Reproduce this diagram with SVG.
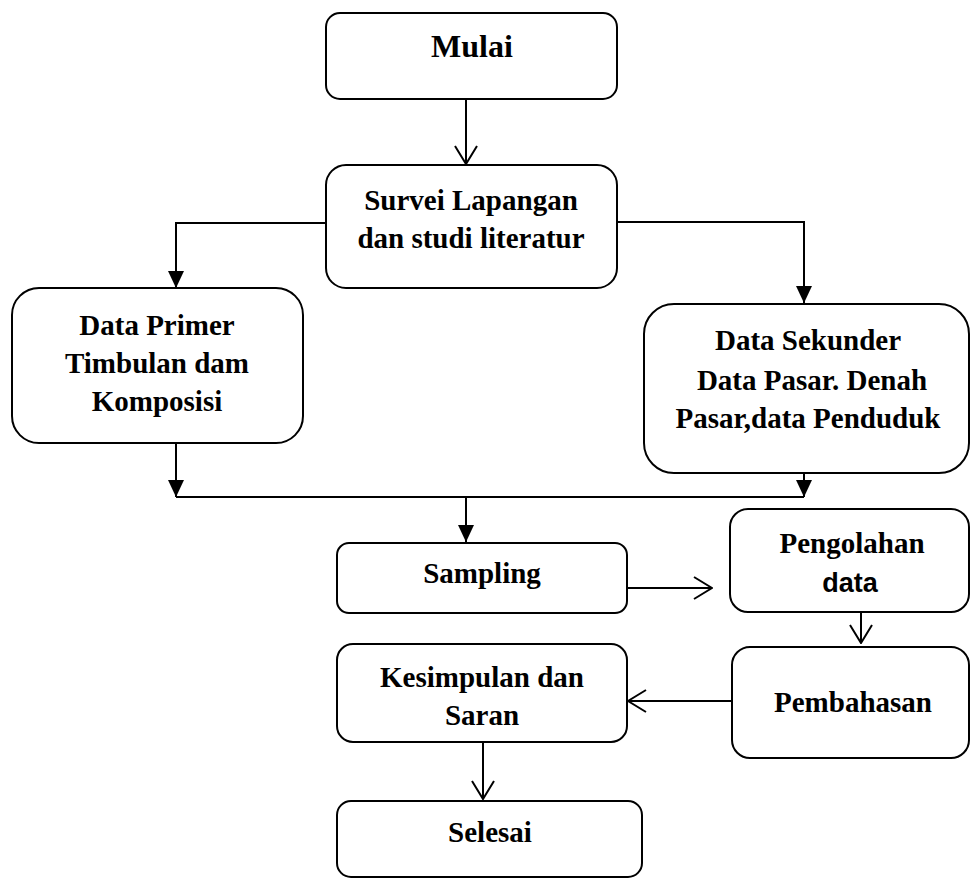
<svg xmlns="http://www.w3.org/2000/svg" width="971" height="879" viewBox="0 0 971 879">
<style>
.box{fill:#fff;stroke:#000;stroke-width:2}
.t{font-family:"Liberation Serif","Times New Roman",serif;font-weight:bold;font-size:29px;fill:#000;text-anchor:middle}
.big{font-size:32px}
.s{font-family:"Liberation Sans",Arial,sans-serif;font-weight:bold;font-size:27px;fill:#000;text-anchor:middle}
.c{fill:none;stroke:#000;stroke-width:2}
</style>
<defs>
<marker id="open" markerUnits="userSpaceOnUse" viewBox="0 0 20 24" refX="19" refY="12" markerWidth="20" markerHeight="24" orient="auto">
<path d="M1,1 L19,12 L1,23" fill="none" stroke="#000" stroke-width="2"/>
</marker>
<marker id="fill" markerUnits="userSpaceOnUse" viewBox="0 0 17 16" refX="17" refY="8" markerWidth="17" markerHeight="16" orient="auto">
<path d="M0,0 L17,8 L0,16 Z" fill="#000"/>
</marker>
</defs>
<rect width="971" height="879" fill="#fff"/>
<g id="connectors">
<path class="c" d="M466,99 L466,164" marker-end="url(#open)"/>
<path class="c" d="M326,223 L176,223 L176,288" marker-end="url(#fill)"/>
<path class="c" d="M617,222 L804,222 L804,303" marker-end="url(#fill)"/>
<path class="c" d="M176,443 L176,497" marker-end="url(#fill)"/>
<path class="c" d="M804,473 L804,497" marker-end="url(#fill)"/>
<path class="c" d="M176,497 L804,497"/>
<path class="c" d="M466,497 L466,542" marker-end="url(#fill)"/>
<path class="c" d="M627,588 L712,588" marker-end="url(#open)"/>
<path class="c" d="M861,612 L861,643" marker-end="url(#open)"/>
<path class="c" d="M732,701 L628,701" marker-end="url(#open)"/>
<path class="c" d="M483,742 L483,799" marker-end="url(#open)"/>
</g>
<g id="mulai">
<rect class="box" x="326" y="13" width="291" height="86" rx="14"/>
<text class="t big" x="472" y="57">Mulai</text>
</g>
<g id="survei">
<rect class="box" x="326" y="165" width="291" height="123" rx="20"/>
<text class="t" x="471" y="210">Survei Lapangan</text>
<text class="t" x="471" y="248">dan studi literatur</text>
</g>
<g id="primer">
<rect class="box" x="12" y="288" width="291" height="155" rx="27"/>
<text class="t" x="157" y="335">Data Primer</text>
<text class="t" x="157" y="373">Timbulan dam</text>
<text class="t" x="157" y="411">Komposisi</text>
</g>
<g id="sekunder">
<rect class="box" x="644" y="304" width="325" height="169" rx="30"/>
<text class="t" x="808" y="350">Data Sekunder</text>
<text class="t" x="812" y="390">Data Pasar. Denah</text>
<text class="t" x="808" y="428">Pasar,data Penduduk</text>
</g>
<g id="sampling">
<rect class="box" x="337" y="543" width="290" height="70" rx="12"/>
<text class="t" x="482" y="583">Sampling</text>
</g>
<g id="pengolahan">
<rect class="box" x="730" y="509" width="239" height="103" rx="18"/>
<text class="t" x="852" y="553">Pengolahan</text>
<text class="s" x="850" y="592">data</text>
</g>
<g id="pembahasan">
<rect class="box" x="732" y="647" width="237" height="111" rx="18"/>
<text class="t" x="853" y="712">Pembahasan</text>
</g>
<g id="kesimpulan">
<rect class="box" x="337" y="644" width="290" height="98" rx="16"/>
<text class="t" x="482" y="687">Kesimpulan dan</text>
<text class="t" x="482" y="725">Saran</text>
</g>
<g id="selesai">
<rect class="box" x="337" y="801" width="305" height="76" rx="14"/>
<text class="t" x="490" y="842">Selesai</text>
</g>
</svg>
